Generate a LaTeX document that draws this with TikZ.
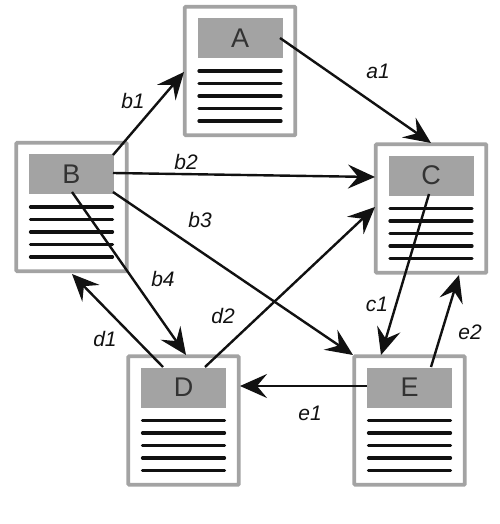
\documentclass[tikz,border=0pt]{standalone}
\usepackage{fontspec}
\setmainfont{Liberation Sans}
\usetikzlibrary{arrows.meta}
\tikzset{
  pagebox/.style={draw=pagegrey,line width=3.6pt,fill=white,minimum width=110.5pt,minimum height=128.5pt,inner sep=0pt,outer sep=0pt,rounded corners=0.8pt},
  headbox/.style={fill=pagegrey,minimum width=85pt,minimum height=40pt,inner sep=0pt,text=headtext,font=\fontsize{27}{27}\selectfont},
  textline/.style={line width=3.2pt,line cap=round,draw=linecol},
  link/.style={line width=2.4pt,draw=linecol,-{Stealth[length=27pt,width=24pt,inset=10pt]},shorten >=0pt},
  lab/.style={font=\fontsize{21}{21}\selectfont\itshape,text=linecol,inner sep=0pt}
}
\definecolor{pagegrey}{HTML}{A3A3A3}
\definecolor{headtext}{HTML}{333333}
\definecolor{linecol}{HTML}{111111}
\newcommand{\docpage}[3]{% name, cx, top
  \node[pagebox] (p#1) at (#2,#3+65.5) {};
  \node[headbox] (#1) at (#2,#3+32.5) {#1};
  \foreach \yy in {65.5,78,90.5,103,115.5}
    \draw[textline] ({#2-41},{#3+\yy}) -- ({#2+41},{#3+\yy});
}
\begin{document}
\begin{tikzpicture}[x=1pt,y=-1pt]
\useasboundingbox (0,0) rectangle (499,524);
\fill[white] (0,0) rectangle (499,524);
\docpage{A}{240}{5.5}
\docpage{B}{71.5}{141.5}
\docpage{C}{431}{143}
\docpage{D}{183.5}{355}
\docpage{E}{409.5}{355}
\coordinate (a1s) at (280,38);   \coordinate (a1e) at (431,143);
\coordinate (b1s) at (113,155);  \coordinate (b1e) at (184,72);
\coordinate (b2s) at (113,173);  \coordinate (b2e) at (375,177);
\coordinate (b3s) at (113,192);  \coordinate (b3e) at (353,355);
\coordinate (b4s) at (72,192);   \coordinate (b4e) at (186,355);
\coordinate (d1s) at (163,367);  \coordinate (d1e) at (72,274);
\coordinate (d2s) at (205,367);  \coordinate (d2e) at (375,207);
\coordinate (c1s) at (429,194);  \coordinate (c1e) at (381,355);
\coordinate (e2s) at (431,367);  \coordinate (e2e) at (459,275);
\coordinate (e1s) at (367,386);  \coordinate (e1e) at (240,386);
\draw[link] (a1s) -- (a1e);
\draw[link] (b1s) -- (b1e);
\draw[link] (b2s) -- (b2e);
\draw[link] (b3s) -- (b3e);
\draw[link] (b4s) -- (b4e);
\draw[link] (d1s) -- (d1e);
\draw[link] (d2s) -- (d2e);
\draw[link] (c1s) -- (c1e);
\draw[link] (e2s) -- (e2e);
\draw[link] (e1s) -- (e1e);
\node[lab] (la1) at (378,71) {a1};
\node[lab] (lb1) at (133,101) {b1};
\node[lab] (lb2) at (186,162) {b2};
\node[lab] (lb3) at (200,220) {b3};
\node[lab] (lb4) at (163,279) {b4};
\node[lab] (ld1) at (105,339) {d1};
\node[lab] (ld2) at (223,316) {d2};
\node[lab] (lc1) at (377,304) {c1};
\node[lab] (le2) at (470,332) {e2};
\node[lab] (le1) at (310,413) {e1};
\end{tikzpicture}
\end{document}
